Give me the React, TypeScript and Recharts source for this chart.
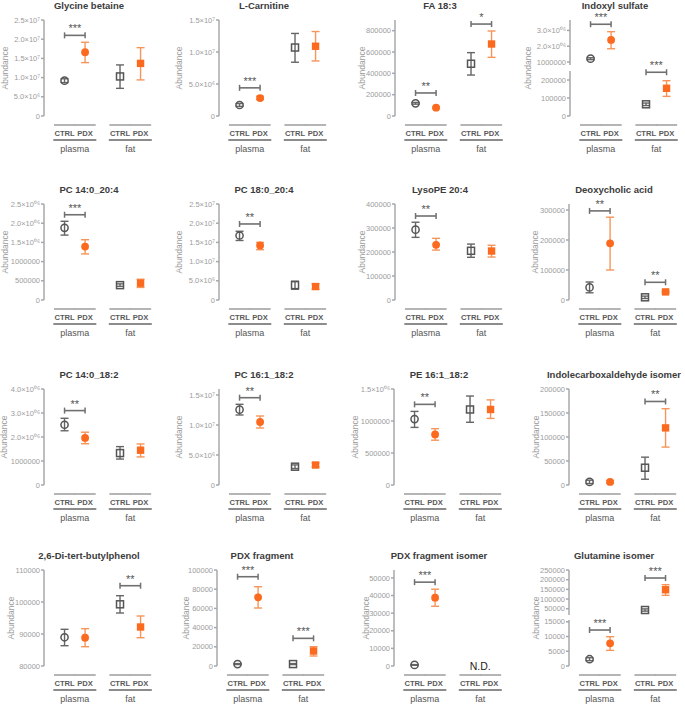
import React from "react";
import { ComposedChart, Scatter, ErrorBar, XAxis, YAxis } from "recharts";

const FONT = "'Liberation Sans', Arial, Helvetica, sans-serif";

// ---- data ----
const titles = [
  "Glycine betaine", "L-Carnitine", "FA 18:3", "Indoxyl sulfate",
  "PC 14:0_20:4", "PC 18:0_20:4", "LysoPE 20:4", "Deoxycholic acid",
  "PC 14:0_18:2", "PC 16:1_18:2", "PE 16:1_18:2", "Indolecarboxaldehyde isomer",
  "2,6-Di-tert-butylphenol", "PDX fragment", "PDX fragment isomer", "Glutamine isomer",
];
const groups = ["plasma", "fat"];
const conditions = ["CTRL", "PDX"];

// [plasma, fat] per panel
const ctrlMean = [
  [9.2e6, 1.03e7], [1.72e6, 1.07e7], [119000, 490000], [1.21e6, 65000],
  [1.88e6, 387000], [1.68e7, 3.87e6], [293000, 205000], [42000, 9000],
  [2.51e6, 1.33e6], [1.255e7, 3.05e6], [1.03e6, 1.18e6], [6500, 36000],
  [88970, 99280], [2000, 2000], [600, null], [2300, 43300],
];
const ctrlLow = [
  [8.7e6, 7.2e6], [1.5e6, 8.4e6], [111000, 384000], [1.15e6, 58000],
  [1.69e6, 355000], [1.55e7, 2.8e6], [261000, 178000], [24000, 5000],
  [2.26e6, 1.08e6], [1.167e7, 2.75e6], [0.9e6, 0.98e6], [3000, 12000],
  [86340, 96560], [1500, 1500], [400, null], [1800, 37500],
];
const ctrlHigh = [
  [9.7e6, 1.33e7], [1.95e6, 1.29e7], [127000, 594000], [1.27e6, 72000],
  [2.05e6, 420000], [1.79e7, 4.9e6], [324000, 233000], [60000, 13000],
  [2.78e6, 1.6e6], [1.345e7, 3.35e6], [1.15e6, 1.39e6], [10000, 58000],
  [91470, 101970], [2500, 2500], [800, null], [2800, 49000],
];
const pdxMean = [
  [1.66e7, 1.37e7], [2.8e6, 1.09e7], [78000, 675000], [2.4e6, 154000],
  [1.39e6, 438000], [1.42e7, 3.5e6], [230000, 204000], [189000, 27000],
  [1.96e6, 1.45e6], [1.05e7, 3.33e6], [0.79e6, 1.18e6], [6500, 119000],
  [88840, 92190], [71500, 15600], [38800, null], [7700, 148000],
];
const pdxLow = [
  [1.39e7, 9.4e6], [2.55e6, 8.6e6], [71000, 550000], [1.84e6, 109000],
  [1.2e6, 327000], [1.31e7, 2.8e6], [208000, 179000], [100000, 24000],
  [1.72e6, 1.17e6], [9.5e6, 3.0e6], [0.7e6, 1.04e6], [4000, 79000],
  [86030, 88840], [60400, 10400], [33900, null], [5300, 119000],
];
const pdxHigh = [
  [1.92e7, 1.78e7], [3.1e6, 1.32e7], [85000, 797000], [2.92e6, 196000],
  [1.57e6, 541000], [1.5e7, 4.2e6], [257000, 228000], [276000, 30000],
  [2.2e6, 1.71e6], [1.15e7, 3.68e6], [0.88e6, 1.33e6], [9500, 159000],
  [91660, 95630], [82600, 20100], [43600, null], [9930, 174000],
];

// [group, bracket level, stars]
const significance: [number, number, string][][] = [
  [[0, 2.1e7, "***"]], [[0, 4.4e6, "***"]], [[0, 216000, "**"], [1, 862000, "*"]], [[0, 3.39e6, "***"], [1, 243000, "***"]],
  [[0, 2.22e6, "***"]], [[0, 1.98e7, "**"]], [[0, 350000, "**"]], [[0, 297000, "**"], [1, 59000, "**"]],
  [[0, 3.1e6, "**"]], [[0, 1.455e7, "**"]], [[0, 1.26e6, "**"]], [[1, 174000, "**"]],
  [[1, 105090, "**"]], [[0, 93000, "***"], [1, 28800, "***"]], [[0, 47600, "***"]], [[0, 12200, "***"], [1, 208600, "***"]],
];
const notDetected = [
  [false, false], [false, false], [false, false], [false, false],
  [false, false], [false, false], [false, false], [false, false],
  [false, false], [false, false], [false, false], [false, false],
  [false, false], [false, false], [false, true], [false, false],
];

// y axis (lower / only segment)
const yDomain = [
  [0, 2.5e7], [0, 1.5e7], [0, 900000], [0, 250000],
  [0, 2.5e6], [0, 2.5e7], [0, 400000], [0, 320000],
  [0, 4e6], [0, 1.6e7], [0, 1.5e6], [0, 200000],
  [80000, 110000], [0, 100000], [0, 54500], [0, 15600],
];
const yTicks = [
  [0, 5e6, 1e7, 1.5e7, 2e7, 2.5e7], [0, 5e6, 1e7, 1.5e7], [0, 200000, 400000, 600000, 800000], [0, 100000, 200000],
  [0, 500000, 1e6, 1.5e6, 2e6, 2.5e6], [0, 5e6, 1e7, 1.5e7, 2e7, 2.5e7], [0, 100000, 200000, 300000, 400000], [0, 100000, 200000, 300000],
  [0, 1e6, 2e6, 3e6, 4e6], [0, 5e6, 1e7, 1.5e7], [0, 500000, 1e6, 1.5e6], [0, 50000, 100000, 150000, 200000],
  [80000, 90000, 100000, 110000], [0, 20000, 40000, 60000, 80000, 100000], [0, 10000, 20000, 30000, 40000, 50000], [0, 5000, 10000, 15000],
];
const yTickLabels = [
  ["0", "5.0×10⁶", "1.0×10⁷", "1.5×10⁷", "2.0×10⁷", "2.5×10⁷"],
  ["0", "5.0×10⁶", "1.0×10⁷", "1.5×10⁷"],
  ["0", "200000", "400000", "600000", "800000"],
  ["0", "100000", "200000"],
  ["0", "500000", "1000000", "1.5×10⁰⁶", "2.0×10⁰⁶", "2.5×10⁰⁶"],
  ["0", "5.0×10⁶", "1.0×10⁷", "1.5×10⁷", "2.0×10⁷", "2.5×10⁷"],
  ["0", "100000", "200000", "300000", "400000"],
  ["0", "100000", "200000", "300000"],
  ["0", "1000000", "2.0×10⁰⁶", "3.0×10⁰⁶", "4.0×10⁰⁶"],
  ["0", "5.0×10⁶", "1.0×10⁷", "1.5×10⁷"],
  ["0", "500000", "1000000", "1.5×10⁰⁶"],
  ["0", "50000", "100000", "150000", "200000"],
  ["80000", "90000", "100000", "110000"],
  ["0", "20000", "40000", "60000", "80000", "100000"],
  ["0", "10000", "20000", "30000", "40000", "50000"],
  ["0", "5000", "10000", "15000"],
];

// upper segments of the two broken axes
const indoxylUpperDomain = [810000, 3660000];
const indoxylUpperTicks = [1e6, 2e6, 3e6];
const indoxylUpperLabels = ["1000000", "2.0×10⁰⁶", "3.0×10⁰⁶"];
const glutamineUpperDomain = [17500, 250000];
const glutamineUpperTicks = [50000, 100000, 150000, 200000, 250000];
const glutamineUpperLabels = ["50000", "100000", "150000", "200000", "250000"];

// ---- layout ----
const xPositions = [1, 2, 3.7, 4.7];
const groupCenters = [1.5, 4.2];
const X_DOMAIN = [0, 5.5];
const PLOT_W = 113;
const PLOT_H = 96;
const YW = 50;
const MT = 14;
const MR = 12;
const SUB_H = 26;
const GRP_H = 24;
const axisX = [44, 219, 395, 570, 44, 219, 395, 569, 44, 219, 394, 569, 44, 217, 394, 569];
const rowTop = [20, 204, 389, 570];
const labelDist = [39, 40, 33, 42, 39, 40, 33, 34, 40, 40, 39, 33, 33, 31, 28, 33];

const upperSegments: Record<number, { domain: number[]; ticks: number[]; labels: string[]; hTop: number; gap: number }> = {
  3: { domain: indoxylUpperDomain, ticks: indoxylUpperTicks, labels: indoxylUpperLabels, hTop: 45, gap: 6 },
  15: { domain: glutamineUpperDomain, ticks: glutamineUpperTicks, labels: glutamineUpperLabels, hTop: 45, gap: 5 },
};

const CTRL = "#555555";
const CTRL_ERR = "#666666";
const PDX = "#fb6a1e";
const PDX_ERR = "#f6955a";
const AXIS = "#a8a8a8";
const TICK = "#9c9c9c";

function ConditionTick(props: any) {
  const { x, y, payload } = props;
  const i = xPositions.findIndex((v) => Math.abs(v - payload.value) < 1e-6);
  return (
    <g>
      <line x1={x - 10.6} x2={x + 10.6} y1={y + 9} y2={y + 9} stroke="#a3a3a3" strokeWidth={1.6} />
      <text x={x} y={y + 20} textAnchor="middle" fontSize={7.6} fontWeight={700} fill="#5a5a5a" fontFamily={FONT}>
        {conditions[i % 2]}
      </text>
    </g>
  );
}

function GroupTick(props: any) {
  const { x, y, payload } = props;
  const i = groupCenters.findIndex((v) => Math.abs(v - payload.value) < 1e-6);
  return (
    <g>
      <line x1={x - 21.5} x2={x + 21.5} y1={y - 2} y2={y - 2} stroke="#8c8c8c" strokeWidth={2.2} />
      <text x={x} y={y + 9.5} textAnchor="middle" fontSize={9} fill="#555" fontFamily={FONT}>
        {groups[i]}
      </text>
    </g>
  );
}

const openMarker = (p: any) =>
  p.payload.g === 0 ? (
    <circle cx={p.cx} cy={p.cy} r={3.6} fill="none" stroke={CTRL} strokeWidth={1.5} />
  ) : (
    <rect x={p.cx - 3.5} y={p.cy - 3.5} width={7} height={7} fill="none" stroke={CTRL} strokeWidth={1.5} />
  );

const filledMarker = (p: any) =>
  p.payload.g === 0 ? (
    <circle cx={p.cx} cy={p.cy} r={3.9} fill={PDX} />
  ) : (
    <rect x={p.cx - 3.7} y={p.cy - 3.7} width={7.4} height={7.4} fill={PDX} />
  );

const bracketEnd = (p: any) => (
  <line x1={p.cx} x2={p.cx} y1={p.cy - 3} y2={p.cy + 3} stroke="#707070" strokeWidth={1.5} />
);

const starText = (p: any) => (
  <text x={p.cx} y={p.cy - 3} textAnchor="middle" fontSize={11} fill="#555" fontFamily={FONT}>
    {p.payload.label}
  </text>
);

const ndText = (p: any) => (
  <text x={p.cx} y={p.cy + 4} textAnchor="middle" fontSize={10.5} fill="#222" fontFamily={FONT}>
    {p.payload.label}
  </text>
);

function points(mean: (number | null)[], low: (number | null)[], high: (number | null)[], offset: number) {
  return groups.flatMap((_, g) => {
    const m = mean[g];
    if (m == null) return [];
    return [{ x: xPositions[g * 2 + offset], y: m, err: [m - (low[g] as number), (high[g] as number) - m], g }];
  });
}

type Seg = { domain: number[]; ticks: number[]; labels: string[]; top: number; h: number; withX: boolean };

function SegmentChart({ p, seg }: { p: number; seg: Seg }) {
  const [lo, hi] = seg.domain;
  const inSeg = (v: number) => v >= lo && v <= hi;
  const ctrl = points(ctrlMean[p], ctrlLow[p], ctrlHigh[p], 0).filter((d) => inSeg(d.y));
  const pdx = points(pdxMean[p], pdxLow[p], pdxHigh[p], 1).filter((d) => inSeg(d.y));
  const sigs = significance[p].filter((s) => inSeg(s[1]));
  const nd = seg.withX
    ? groups.flatMap((_, g) => (notDetected[p][g] ? [{ x: groupCenters[g], y: lo, label: "N.D." }] : []))
    : [];
  const height = MT + seg.h + (seg.withX ? SUB_H + GRP_H : 0);

  return (
    <div style={{ position: "absolute", left: axisX[p] - YW, top: seg.top - MT }}>
      <ComposedChart width={YW + PLOT_W + MR} height={height} margin={{ top: MT, right: MR, left: 0, bottom: 0 }}>
        <XAxis
          dataKey="x"
          type="number"
          domain={X_DOMAIN}
          ticks={xPositions}
          interval={0}
          hide={!seg.withX}
          height={SUB_H}
          axisLine={false}
          tickLine={false}
          tickSize={0}
          tickMargin={0}
          tick={<ConditionTick />}
        />
        {seg.withX && (
          <XAxis
            xAxisId="grp"
            dataKey="x"
            type="number"
            domain={X_DOMAIN}
            ticks={groupCenters}
            interval={0}
            allowDataOverflow
            height={GRP_H}
            axisLine={false}
            tickLine={false}
            tickSize={0}
            tickMargin={0}
            tick={<GroupTick />}
          />
        )}
        <YAxis
          dataKey="y"
          type="number"
          domain={seg.domain}
          ticks={seg.ticks}
          interval={0}
          width={YW}
          tickSize={3}
          tickMargin={1}
          tickFormatter={(v: number) => seg.labels[seg.ticks.indexOf(v)] ?? ""}
          tick={{ fontSize: 7.5, fill: TICK, fontFamily: FONT }}
          stroke={AXIS}
          strokeWidth={1.5}
        />
        {sigs.flatMap(([g, v, stars], k) => [
          <Scatter
            key={`b${k}`}
            data={[
              { x: xPositions[g * 2], y: v },
              { x: xPositions[g * 2 + 1], y: v },
            ]}
            line={{ stroke: "#707070", strokeWidth: 1.6 }}
            shape={bracketEnd}
            isAnimationActive={false}
          />,
          <Scatter
            key={`s${k}`}
            data={[{ x: (xPositions[g * 2] + xPositions[g * 2 + 1]) / 2, y: v, label: stars }]}
            shape={starText}
            isAnimationActive={false}
          />,
        ])}
        <Scatter data={ctrl} shape={openMarker} isAnimationActive={false}>
          <ErrorBar dataKey="err" direction="y" width={4} stroke={CTRL_ERR} strokeWidth={1.4} isAnimationActive={false} />
        </Scatter>
        <Scatter data={pdx} shape={filledMarker} isAnimationActive={false}>
          <ErrorBar dataKey="err" direction="y" width={4} stroke={PDX_ERR} strokeWidth={1.4} isAnimationActive={false} />
        </Scatter>
        {nd.length > 0 && <Scatter data={nd} shape={ndText} isAnimationActive={false} />}
      </ComposedChart>
    </div>
  );
}

function Panel({ p }: { p: number }) {
  const plotTop = rowTop[Math.floor(p / 4)];
  const upper = upperSegments[p];
  const lower = { domain: yDomain[p], ticks: yTicks[p], labels: yTickLabels[p] };
  const segs: Seg[] = upper
    ? [
        { domain: upper.domain, ticks: upper.ticks, labels: upper.labels, top: plotTop, h: upper.hTop, withX: false },
        { ...lower, top: plotTop + upper.hTop + upper.gap, h: PLOT_H - upper.hTop - upper.gap, withX: true },
      ]
    : [{ ...lower, top: plotTop, h: PLOT_H, withX: true }];

  return (
    <>
      <div
        style={{
          position: "absolute",
          left: axisX[p] + 45 - 100,
          top: plotTop - 20,
          width: 200,
          textAlign: "center",
          fontFamily: FONT,
          fontWeight: 700,
          fontSize: 9.5,
          lineHeight: "12px",
          color: "#3c3c3c",
          whiteSpace: "nowrap",
        }}
      >
        {titles[p]}
      </div>
      <div
        style={{
          position: "absolute",
          left: axisX[p] - labelDist[p] - 50,
          top: plotTop + PLOT_H / 2 - 6,
          width: 100,
          textAlign: "center",
          transform: "rotate(-90deg)",
          fontFamily: FONT,
          fontSize: 8.5,
          lineHeight: "12px",
          color: TICK,
        }}
      >
        Abundance
      </div>
      {segs.map((seg, k) => (
        <SegmentChart key={k} p={p} seg={seg} />
      ))}
    </>
  );
}

export default function App() {
  return (
    <div style={{ position: "absolute", left: 0, top: 0, width: 685, height: 704, background: "#fff", overflow: "hidden" }}>
      <style>{`.recharts-surface{overflow:visible}`}</style>
      {titles.map((_, p) => (
        <Panel key={p} p={p} />
      ))}
    </div>
  );
}
